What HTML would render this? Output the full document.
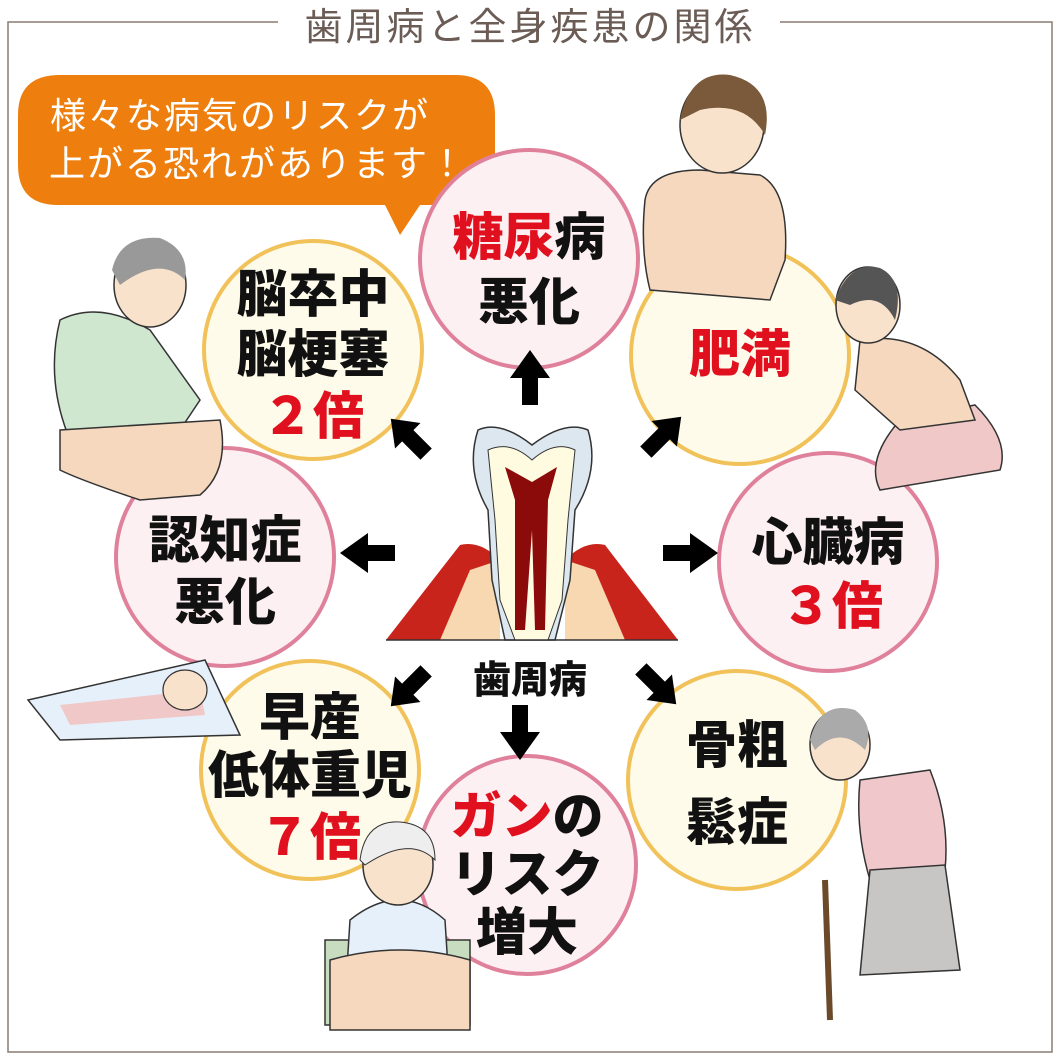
<!DOCTYPE html>
<html><head><meta charset="utf-8"><style>
html,body{margin:0;padding:0;background:#fff;}
svg{display:block;}
text{font-family:"Liberation Sans","Noto Sans CJK JP",sans-serif;}
</style></head><body>
<svg width="1059" height="1060" viewBox="0 0 1059 1060" xmlns="http://www.w3.org/2000/svg">
<rect x="8" y="22" width="1044" height="1030" fill="none" stroke="#8a7b74" stroke-width="1.5"/>
<rect x="278" y="6" width="502" height="38" fill="#fff"/>
<text x="530" y="40" text-anchor="middle" font-size="38" fill="#6b5c56" letter-spacing="3">歯周病と全身疾患の関係</text>

<!-- speech bubble -->
<path d="M60 75 L455 75 Q495 75 495 115 L495 165 Q495 205 455 205 L420 205 L400 235 L385 205 L58 205 Q18 205 18 165 L18 115 Q18 75 60 75Z" fill="#ee7f0e"/>
<text x="240" y="128" text-anchor="middle" font-size="36" fill="#fff" letter-spacing="2">様々な病気のリスクが</text>
<text x="258" y="176" text-anchor="middle" font-size="36" fill="#fff" letter-spacing="2">上がる恐れがあります！</text>

<!-- circles -->
<g stroke-width="4">
 <circle cx="529" cy="259" r="109" fill="#fdf0f3" stroke="#e0819c"/>
 <circle cx="740" cy="355" r="109" fill="#fffbea" stroke="#f2c25a"/>
 <circle cx="828" cy="562" r="109" fill="#fdf0f3" stroke="#e0819c"/>
 <circle cx="737" cy="780" r="109" fill="#fffbea" stroke="#f2c25a"/>
 <circle cx="527" cy="865" r="109" fill="#fdf0f3" stroke="#e0819c"/>
 <circle cx="310" cy="770" r="109" fill="#fffbea" stroke="#f2c25a"/>
 <circle cx="225" cy="557" r="109" fill="#fdf0f3" stroke="#e0819c"/>
 <circle cx="313" cy="350" r="109" fill="#fffbea" stroke="#f2c25a"/>
</g>
<!-- people -->
<path d="M645 200 Q650 170 700 170 L760 175 Q790 190 785 260 L770 300 L650 290 Q640 250 645 200Z" fill="#f5d8bd" stroke="#333" stroke-width="1.5"/>
<ellipse cx="722" cy="125" rx="42" ry="48" fill="#f8e2cc" stroke="#333" stroke-width="1.5"/>
<path d="M680 120 Q690 70 730 75 Q775 85 765 135 Q745 100 700 110Z" fill="#7a5a3a"/>
<path d="M900 420 L975 405 Q1010 440 1000 470 L880 490 Q865 460 900 420Z" fill="#f0c8c8" stroke="#333" stroke-width="1.5"/>
<path d="M860 340 Q920 330 960 380 L975 420 L900 430 L855 390Z" fill="#f5d8bd" stroke="#333" stroke-width="1.5"/>
<ellipse cx="868" cy="305" rx="32" ry="38" fill="#f8e2cc" stroke="#333" stroke-width="1.5"/>
<path d="M835 300 Q850 260 880 268 Q905 280 895 320 Q880 290 850 305Z" fill="#555"/>
<path d="M60 320 Q100 300 150 330 L200 400 L180 430 L70 440 Q45 380 60 320Z" fill="#cfe6cf" stroke="#333" stroke-width="1.5"/>
<path d="M60 430 L220 420 Q230 470 200 495 L140 500 Q80 480 60 470Z" fill="#f5d8bd" stroke="#333" stroke-width="1.5"/>
<ellipse cx="150" cy="285" rx="36" ry="42" fill="#f8e2cc" stroke="#333" stroke-width="1.5"/>
<path d="M112 270 Q120 235 160 238 Q190 250 185 280 Q160 255 120 285Z" fill="#999"/>
<path d="M28 700 L205 660 L240 735 L60 740Z" fill="#e6f0fa" stroke="#333" stroke-width="1.5"/>
<path d="M60 705 L200 690 L205 715 L70 725Z" fill="#f0c8c8"/>
<ellipse cx="185" cy="690" rx="22" ry="20" fill="#f8e2cc" stroke="#333" stroke-width="1.2"/>
<path d="M325 940 L470 940 L470 1025 L325 1025Z" fill="#c8dcc0" stroke="#333" stroke-width="1.5"/>
<path d="M350 920 Q400 880 445 920 L450 1000 L345 1000Z" fill="#e6f0fa" stroke="#333" stroke-width="1.5"/>
<path d="M330 960 Q400 940 470 960 L470 1030 L330 1030Z" fill="#f5d8bd" stroke="#333" stroke-width="1.5"/>
<ellipse cx="398" cy="865" rx="35" ry="40" fill="#f8e2cc" stroke="#333" stroke-width="1.5"/>
<path d="M360 860 Q365 820 400 822 Q435 825 435 860 Q410 835 365 865Z" fill="#eee" stroke="#333"/>
<path d="M860 780 L930 770 Q950 820 945 870 L870 880 Q855 830 860 780Z" fill="#f0c8cc" stroke="#333" stroke-width="1.5"/>
<path d="M870 870 L945 865 L960 970 L860 975Z" fill="#c8c6c4" stroke="#333" stroke-width="1.5"/>
<ellipse cx="840" cy="745" rx="30" ry="35" fill="#f8e2cc" stroke="#333" stroke-width="1.5"/>
<path d="M810 740 Q820 700 855 710 Q875 725 865 750 Q840 725 815 750Z" fill="#aaa"/>
<line x1="825" y1="880" x2="830" y2="1020" stroke="#6b4a2a" stroke-width="6"/>

<!-- circle labels -->
<g font-size="51" font-weight="900" text-anchor="middle" fill="#111">
 <text x="529" y="255"><tspan fill="#e0101e">糖尿</tspan>病</text>
 <text x="529" y="320">悪化</text>
 <text x="740" y="372" fill="#e0101e">肥満</text>
 <text x="828" y="560">心臓病</text>
 <text x="832" y="624" fill="#e0101e">３倍</text>
 <text x="737" y="763">骨粗</text>
 <text x="737" y="840">鬆症</text>
 <text x="527" y="834"><tspan fill="#e0101e">ガン</tspan>の</text>
 <text x="527" y="892">リスク</text>
 <text x="527" y="950">増大</text>
 <text x="310" y="735">早産</text>
 <text x="310" y="793">低体重児</text>
 <text x="310" y="855" fill="#e0101e">７倍</text>
 <text x="225" y="558">認知症</text>
 <text x="225" y="620">悪化</text>
 <text x="313" y="312">脳卒中</text>
 <text x="313" y="372">脳梗塞</text>
 <text x="313" y="434" fill="#e0101e">２倍</text>
</g>

<!-- tooth -->
<g>
 <path d="M386 640 L460 545 Q480 540 500 560 L500 640Z" fill="#c9241c"/>
 <path d="M678 640 L605 545 Q585 540 565 560 L565 640Z" fill="#c9241c"/>
 <path d="M440 640 L470 570 L500 560 L500 640Z" fill="#f7d8b0"/>
 <path d="M625 640 L595 570 L565 560 L565 640Z" fill="#f7d8b0"/>
 <path d="M478 430 Q500 420 532 445 Q565 420 588 430 Q600 470 575 510 L570 580 L555 640 L505 640 L492 580 L488 510 Q465 470 478 430Z" fill="#dce7f0" stroke="#333" stroke-width="1.5"/>
 <path d="M488 450 Q510 440 532 460 Q555 440 575 450 L568 520 L562 600 L548 640 L515 640 L500 600 L495 520Z" fill="#fffbe0" stroke="#333" stroke-width="1"/>
 <path d="M505 467 L532 482 L557 467 L548 500 L545 630 L535 630 L532 530 L525 630 L515 630 L515 500Z" fill="#8b0a0a"/>
 <path d="M386 640 L678 640" stroke="#333" stroke-width="1.5"/>
</g>
<text x="530" y="693" text-anchor="middle" font-size="38" font-weight="900" fill="#111">歯周病</text>

<!-- arrows -->
<g fill="#000">
 <path d="M530 350 L550 378 L538 378 L538 405 L522 405 L522 378 L510 378Z"/>
 <path d="M520 760 L500 732 L512 732 L512 705 L528 705 L528 732 L540 732Z"/>
 <path d="M718 553 L690 573 L690 561 L663 561 L663 545 L690 545 L690 533Z"/>
 <path d="M340 553 L368 533 L368 545 L395 545 L395 561 L368 561 L368 573Z"/>
 <g transform="translate(412,440) rotate(-135)"><path d="M30 0 L6 -18 L6 -8 L-20 -8 L-20 8 L6 8 L6 18Z"/></g>
 <g transform="translate(660,438) rotate(-45)"><path d="M30 0 L6 -18 L6 -8 L-20 -8 L-20 8 L6 8 L6 18Z"/></g>
 <g transform="translate(412,685) rotate(135)"><path d="M30 0 L6 -18 L6 -8 L-20 -8 L-20 8 L6 8 L6 18Z"/></g>
 <g transform="translate(655,683) rotate(45)"><path d="M30 0 L6 -18 L6 -8 L-20 -8 L-20 8 L6 8 L6 18Z"/></g>
</g>
</svg>
</body></html>
